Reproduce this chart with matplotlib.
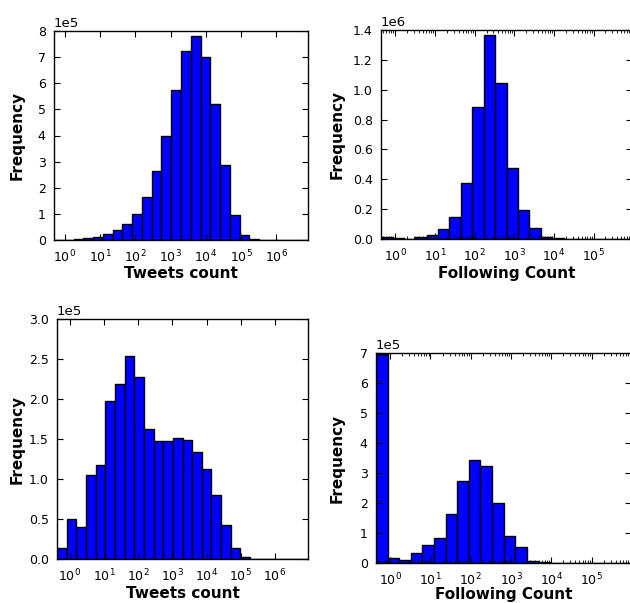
import numpy as np
import matplotlib
matplotlib.use('Agg')
import matplotlib.pyplot as plt

# histogram counts per log-spaced bin
tweets_all = [300, 600, 2000, 8000, 10000, 22000, 38000, 61000, 101000, 165000,
              264000, 400000, 574000, 724000, 780000, 700000, 522000, 287000,
              96000, 18000, 3000, 1000, 500, 300, 200, 100]
following_all = [13000, 7000, 3000, 13000, 27000, 67000, 147000, 377000, 885000,
                 1364000, 1048000, 475000, 192000, 76000, 11000, 4000, 2000,
                 1500, 1000, 800, 600, 400]
tweets_sub = [14000, 50000, 40000, 105000, 118000, 198000, 219000, 254000, 228000,
              163000, 147000, 147000, 151000, 149000, 133500, 112000, 80000, 42000,
              14000, 2500, 400, 200, 100, 100, 50, 30]
following_sub = [697000, 15500, 10000, 34000, 60000, 84000, 164000, 274000, 344000,
                 324000, 199000, 91000, 52000, 8000, 2000, 1000, 500, 400, 300,
                 300, 200, 200]

# log10 range of the bins for each panel
tweets_all_rng = (-0.31, 6.90)
following_all_rng = (-0.36, 5.97)
tweets_sub_rng = (-0.38, 6.97)
following_sub_rng = (-0.35, 5.98)

plt.rcParams['xtick.direction'] = 'in'
plt.rcParams['ytick.direction'] = 'in'
plt.rcParams['xtick.top'] = True
plt.rcParams['ytick.right'] = True
plt.rcParams['xtick.labelsize'] = 9
plt.rcParams['ytick.labelsize'] = 9
plt.rcParams['axes.linewidth'] = 1.0

fig = plt.figure(figsize=(6.3, 6.03), dpi=100)

# rect, counts, bin range, xlabel, yticks, xlabel y, ylabel x (axes coords)
panels = [
    ([54/630, 1-240/603, 254/630, 209/603], tweets_all, tweets_all_rng,
     'Tweets count', np.arange(0, 9)*1e5, -0.124, -0.114),
    ([381/630, 1-239/603, 251/630, 209/603], following_all, following_all_rng,
     'Following Count', np.arange(0, 8)*2e5, -0.129, -0.143),
    ([57/630, 1-559/603, 251/630, 240/603], tweets_sub, tweets_sub_rng,
     'Tweets count', np.arange(0, 7)*0.5e5, -0.1125, -0.127),
    ([376/630, 1-563/603, 255/630, 210/603], following_sub, following_sub_rng,
     'Following Count', np.arange(0, 8)*1e5, -0.114, -0.122),
]

for rect, counts, rng, xlabel, yticks, xl_y, yl_x in panels:
    ax = fig.add_axes(rect)
    edges = np.logspace(rng[0], rng[1], len(counts) + 1)
    ax.hist(edges[:-1], bins=edges, weights=counts, color='#0000ff',
            edgecolor='black', linewidth=1.0)
    ax.set_xscale('log')
    decades = 10.0 ** np.arange(0, int(np.floor(rng[1])) + 1)
    ax.set_xticks(decades)
    ax.set_xlim(edges[0], edges[-1])
    ax.set_ylim(yticks[0], yticks[-1])
    ax.set_yticks(yticks)
    ax.ticklabel_format(style='sci', axis='y', scilimits=(0, 0))
    ax.yaxis.get_offset_text().set_fontsize(9.5)
    ax.set_xlabel(xlabel, fontsize=11, fontweight='bold')
    ax.set_ylabel('Frequency', fontsize=11, fontweight='bold')
    ax.xaxis.set_label_coords(0.5, xl_y)
    ax.yaxis.set_label_coords(yl_x, 0.5)
    ax.tick_params(which='major', length=4, pad=6)
    ax.tick_params(which='minor', length=2)

fig.savefig('out.png', dpi=100)
